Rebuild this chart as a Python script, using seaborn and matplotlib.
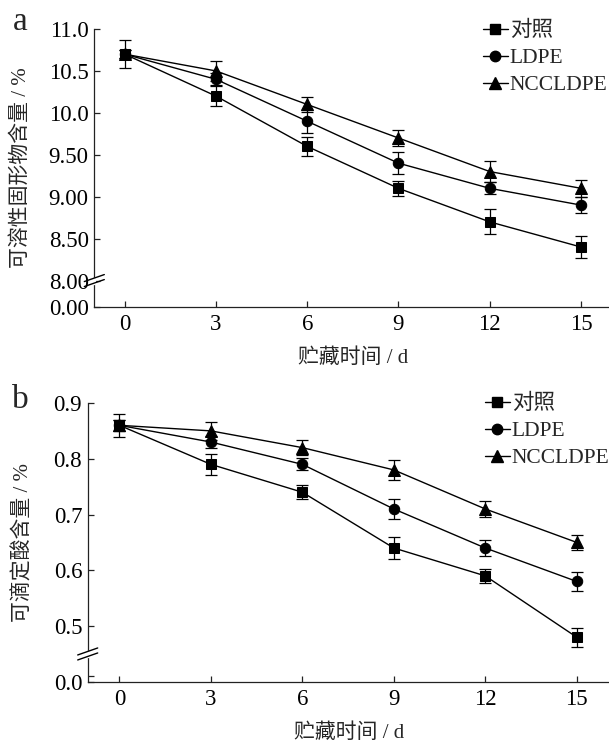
import numpy as np
import pandas as pd
import matplotlib
matplotlib.use("Agg")
import matplotlib.pyplot as plt
from matplotlib.lines import Line2D
import seaborn as sns

# ---------------- data ----------------
days = [0, 3, 6, 9, 12, 15]
groups = ["对照", "LDPE", "NCCLDPE"]

# panel a: soluble solids (%)
ssc_ck = [10.70, 10.20, 9.60, 9.10, 8.70, 8.40]
ssc_ck_err = [0.17, 0.12, 0.11, 0.09, 0.15, 0.13]
ssc_ldpe = [10.70, 10.40, 9.90, 9.40, 9.10, 8.90]
ssc_ldpe_err = [0.05, 0.07, 0.14, 0.13, 0.07, 0.10]
ssc_ncc = [10.70, 10.50, 10.10, 9.70, 9.30, 9.10]
ssc_ncc_err = [0.05, 0.12, 0.09, 0.09, 0.12, 0.10]

# panel b: titratable acidity (%)
ta_ck = [0.86, 0.79, 0.74, 0.64, 0.59, 0.48]
ta_ck_err = [0.021, 0.019, 0.013, 0.019, 0.013, 0.017]
ta_ldpe = [0.86, 0.83, 0.79, 0.71, 0.64, 0.58]
ta_ldpe_err = [0.010, 0.010, 0.011, 0.018, 0.014, 0.017]
ta_ncc = [0.86, 0.85, 0.82, 0.78, 0.71, 0.65]
ta_ncc_err = [0.010, 0.016, 0.013, 0.018, 0.014, 0.014]

a_ticks = [0.0, 8.0, 8.5, 9.0, 9.5, 10.0, 10.5, 11.0]
a_ticklabels = ["0.00", "8.00", "8.50", "9.00", "9.50", "10.0", "10.5", "11.0"]
b_ticks = [0.0, 0.1, 0.5, 0.6, 0.7, 0.8, 0.9]
b_ticklabels = ["0.0", "", "0.5", "0.6", "0.7", "0.8", "0.9"]
x_ticks = [0, 3, 6, 9, 12, 15]

ylabel_a = "可溶性固形物含量 / %"
ylabel_b = "可滴定酸含量 / %"
xlabel = "贮藏时间 / d"

# ---------------- style ----------------
sns.set_theme(style="ticks")
plt.rcParams["font.family"] = ["Liberation Serif", "Noto Sans CJK SC"]
plt.rcParams["axes.unicode_minus"] = False
plt.rcParams["axes.linewidth"] = 0.9
plt.rcParams["axes.edgecolor"] = "#222222"

W, H = 609, 746
fig = plt.figure(figsize=(W / 100, H / 100), dpi=100)
fig.patch.set_facecolor("white")

axA = fig.add_axes([94.3 / W, 1 - 307 / H, (611.4 - 94.3) / W, 278 / H])
axB = fig.add_axes([87.7 / W, 1 - 682 / H, (610.3 - 87.7) / W, 279 / H])


def make_scale(brk, k):
    def fwd(y):
        y = np.asarray(y, dtype=float)
        return np.where(y >= brk, y, brk - (brk - y) * k)

    def inv(z):
        z = np.asarray(z, dtype=float)
        return np.where(z >= brk, z, brk - (brk - z) / k)

    return fwd, inv


markers = {"对照": "s", "LDPE": "o", "NCCLDPE": "^"}
msize = {"对照": 7.0, "LDPE": 7.5, "NCCLDPE": 8.5}


def panel(ax, series, errs, brk, k, ylim, yticks, yticklabels, xlim, ylabel, tag,
          leg_anchor, break_y):
    fwd, inv = make_scale(brk, k)
    ax.set_yscale("function", functions=(fwd, inv))
    df = pd.DataFrame({
        "day": days * 3,
        "value": series[0] + series[1] + series[2],
        "group": [g for g in groups for _ in days],
    })
    for g in groups:
        sub = df[df["group"] == g]
        sns.lineplot(data=sub, x="day", y="value", ax=ax, color="black",
                     marker=markers[g], markersize=msize[g], linewidth=1.0,
                     markeredgecolor="black", markerfacecolor="black",
                     legend=False, zorder=3)
    for s, e in zip(series, errs):
        ax.errorbar(days, s, yerr=e, fmt="none", ecolor="black",
                    elinewidth=0.9, capsize=4, capthick=0.9, zorder=4)
    ax.set_xlim(*xlim)
    ax.set_ylim(*ylim)
    ax.set_xticks(x_ticks)
    ax.set_xticklabels([str(d) for d in x_ticks])
    ax.set_yticks(yticks)
    ax.set_yticklabels(yticklabels)
    ax.tick_params(axis="both", direction="in", length=4, width=0.9,
                   labelsize=16.5, colors="#222222", labelcolor="black")
    ax.tick_params(axis="x", pad=5)
    ax.tick_params(axis="y", pad=4)
    ax.minorticks_off()
    for sp in ["top", "right"]:
        ax.spines[sp].set_visible(False)
    ax.set_facecolor("white")
    ax.grid(False)

    ax.set_xlabel(xlabel, fontsize=15)
    ax.set_ylabel(ylabel, fontsize=15)
    ax.xaxis.label.set_verticalalignment("center")
    ax.yaxis.label.set_verticalalignment("center")

    # legend
    handles = [Line2D([], [], color="black", lw=1.0, marker=markers[g],
                      markersize=msize[g], markerfacecolor="black",
                      markeredgecolor="black") for g in groups]
    fig.legend(handles, groups, loc="upper left", bbox_to_anchor=leg_anchor,
               bbox_transform=fig.transFigure, frameon=False, fontsize=15.5,
               handlelength=1.15, handletextpad=0.1, labelspacing=0.32,
               borderpad=0, borderaxespad=0, markerscale=1.0)

    # break marks on y axis
    fig.canvas.draw()
    px = ax.get_yaxis_transform().transform((0, break_y))
    inv_fig = fig.transFigure.inverted()
    bx, by = px
    for off in (-2.5, 2.5):
        x0, y0 = bx - 10, by - 3.5 + off
        x1, y1 = bx + 10, by + 3.5 + off
        p0 = inv_fig.transform((x0, y0))
        p1 = inv_fig.transform((x1, y1))
        fig.add_artist(Line2D([p0[0], p1[0]], [p0[1], p1[1]],
                              transform=fig.transFigure, color="black",
                              lw=1.0, zorder=10))
    # white gap on spine between the marks
    g0 = inv_fig.transform((bx, by - 2.0))
    g1 = inv_fig.transform((bx, by + 2.0))
    fig.add_artist(Line2D([g0[0], g1[0]], [g0[1], g1[1]],
                          transform=fig.transFigure, color="white",
                          lw=2.5, zorder=9))

    fig.text(20 / W, 1 - tag[1] / H, tag[0], fontsize=24, ha="center",
             va="center", family="Liberation Serif")


panel(axA, [ssc_ck, ssc_ldpe, ssc_ncc], [ssc_ck_err, ssc_ldpe_err, ssc_ncc_err],
      8.0, 0.0394, (0.0, 11.0), a_ticks, a_ticklabels, (-1.0, 16.0),
      ylabel_a, ("a", 22), (483 / W, 1 - 21 / H), 8.0)
axA.xaxis.set_label_coords(0.5, -0.183)
axA.yaxis.set_label_coords((21 - 94.3) / (611.4 - 94.3), 0.5)

panel(axB, [ta_ck, ta_ldpe, ta_ncc], [ta_ck_err, ta_ldpe_err, ta_ncc_err],
      0.45, 0.1117, (0.0, 0.9), b_ticks, b_ticklabels, (-1.04, 16.1),
      ylabel_b, ("b", 400), (485 / W, 1 - 394 / H), 0.45)
axB.xaxis.set_label_coords(0.5, -0.183)
axB.yaxis.set_label_coords((23 - 87.7) / (610.3 - 87.7), 0.5)

fig.savefig("out.png", dpi=100, facecolor="white")
